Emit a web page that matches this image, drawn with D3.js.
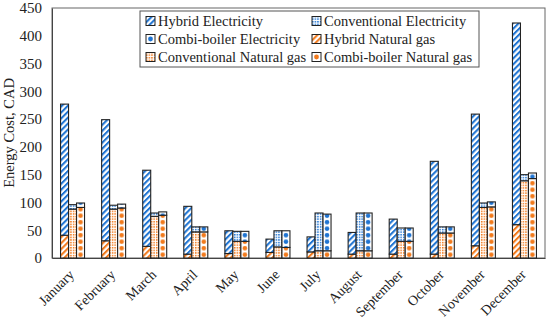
<!DOCTYPE html>
<html>
<head>
<meta charset="UTF-8">
<title>Energy cost by month</title>
<script src="https://d3js.org/d3.v7.min.js"></script>
<style>
  body { margin: 0; background: #fff; }
  svg text { font-family: "Liberation Serif", "Times New Roman", serif; fill: #222; }
</style>
</head>
<body>
<div id="chart"></div>
<script>
// data
var months = ["January", "February", "March", "April", "May", "June",
              "July", "August", "September", "October", "November", "December"];
var systems = ["Hybrid", "Conventional", "Combi-boiler"];
var hybridGas  = [41, 31, 21, 7, 8, 10, 11, 7, 7, 7, 22, 60];
var hybridElec = [236, 218, 137, 86, 41, 24, 27, 39, 63, 167, 237, 363];
var convGas    = [88, 88, 75, 47, 30, 20, 13, 13, 30, 45, 91, 139];
var convElec   = [8, 7, 6, 9, 18, 29, 68, 68, 24, 11, 8, 11];
var combiGas   = [91, 90, 77, 47, 30, 19, 13, 13, 30, 45, 92, 143];
var combiElec  = [8, 7, 6, 9, 18, 30, 66, 68, 24, 11, 9, 10];
var yTicks = [0, 50, 100, 150, 200, 250, 300, 350, 400, 450];

var width = 550, height = 323;
var margin = {top: 8, right: 5, bottom: 65, left: 52};
var blue = "#1f74d2", orange = "#f27a1c";

var svg = d3.select("#chart").append("svg")
            .attr("width", width)
            .attr("height", height)
            .attr("font-family", "Liberation Serif");

var x0 = d3.scaleBand()
           .domain(months)
           .range([margin.left, width - margin.right])
           .paddingInner(0.416)
           .paddingOuter(0.208);
var x1 = d3.scaleBand()
           .domain(systems)
           .range([0, x0.bandwidth()]);
var y = d3.scaleLinear()
          .domain([0, 450])
          .range([height - margin.bottom, margin.top]);

// patterns
var defs = svg.append("defs");

function stripes(id, color) {
  var p = defs.append("pattern")
              .attr("id", id)
              .attr("patternUnits", "userSpaceOnUse")
              .attr("width", 4.2).attr("height", 4.2)
              .attr("patternTransform", "rotate(45)");
  p.append("rect").attr("width", 4.2).attr("height", 4.2).attr("fill", "#fff");
  p.append("line").attr("x1", 1).attr("x2", 1).attr("y1", 0).attr("y2", 4.2)
   .attr("stroke", color).attr("stroke-width", 2.1);
}
function checker(id, color) {
  var p = defs.append("pattern")
              .attr("id", id)
              .attr("patternUnits", "userSpaceOnUse")
              .attr("width", 2.6).attr("height", 2.6);
  p.append("rect").attr("width", 2.6).attr("height", 2.6).attr("fill", "#fff");
  p.append("rect").attr("width", 1.5).attr("height", 1.5).attr("fill", color);
}
stripes("hybridE", blue);
stripes("hybridG", orange);
checker("convE", blue);
checker("convG", orange);

// dots are lined up with each combi bar
function dots(prefix, color) {
  var p = defs.selectAll("pattern." + prefix)
              .data(months)
              .join("pattern")
              .attr("class", prefix)
              .attr("id", function(d, i) { return prefix + i; })
              .attr("patternUnits", "userSpaceOnUse")
              .attr("x", function(d) { return x0(d) + x1("Combi-boiler"); })
              .attr("y", y(0))
              .attr("width", x1.bandwidth()).attr("height", 6.5);
  p.append("rect").attr("width", x1.bandwidth()).attr("height", 6.5).attr("fill", "#fff");
  p.append("circle").attr("cx", x1.bandwidth() / 2).attr("cy", 3.25).attr("r", 2.3)
   .attr("fill", color);
}
dots("combiE", blue);
dots("combiG", orange);

// plot frame
svg.append("rect")
   .attr("x", margin.left).attr("y", margin.top)
   .attr("width", width - margin.left - margin.right)
   .attr("height", height - margin.top - margin.bottom)
   .attr("fill", "none").attr("stroke", "#666").attr("stroke-width", 1);

// y axis
var yAxis = d3.axisLeft(y).tickValues(yTicks).tickSize(0).tickPadding(10);
var gy = svg.append("g")
            .attr("transform", "translate(" + margin.left + ",0)")
            .call(yAxis)
            .attr("font-family", "Liberation Serif");
gy.select(".domain").attr("stroke", "#444");
gy.selectAll("text").attr("font-size", 15).attr("fill", "#222");

svg.append("text")
   .attr("transform", "translate(14," + y(225) + ") rotate(-90)")
   .attr("text-anchor", "middle")
   .attr("font-size", 14.5)
   .text("Energy Cost, CAD");

// x axis
var xAxis = d3.axisBottom(x0).tickSize(0).tickPadding(0);
var gx = svg.append("g")
            .attr("transform", "translate(0," + y(0) + ")")
            .call(xAxis)
            .attr("font-family", "Liberation Serif");
gx.select(".domain").attr("stroke", "#444");
gx.selectAll("text")
  .attr("font-size", 14)
  .attr("fill", "#222")
  .attr("text-anchor", "end")
  .attr("x", 0).attr("y", 0)
  .attr("dy", "0.35em")
  .attr("transform", "translate(-1,14) rotate(-45)");

// bars
var series = [
  {sys: "Hybrid", gas: hybridGas, elec: hybridElec, gFill: function() { return "url(#hybridG)"; }, eFill: function() { return "url(#hybridE)"; }},
  {sys: "Conventional", gas: convGas, elec: convElec, gFill: function() { return "url(#convG)"; }, eFill: function() { return "url(#convE)"; }},
  {sys: "Combi-boiler", gas: combiGas, elec: combiElec, gFill: function(i) { return "url(#combiG" + i + ")"; }, eFill: function(i) { return "url(#combiE" + i + ")"; }}
];

series.forEach(function(s) {
  var g = svg.append("g");
  g.selectAll("rect.gas")
   .data(months)
   .join("rect")
   .attr("class", "gas")
   .attr("x", function(d) { return x0(d) + x1(s.sys); })
   .attr("width", x1.bandwidth())
   .attr("y", function(d, i) { return y(s.gas[i]); })
   .attr("height", function(d, i) { return y(0) - y(s.gas[i]); })
   .attr("fill", function(d, i) { return s.gFill(i); })
   .attr("stroke", "#222").attr("stroke-width", 1.1);
  g.selectAll("rect.elec")
   .data(months)
   .join("rect")
   .attr("class", "elec")
   .attr("x", function(d) { return x0(d) + x1(s.sys); })
   .attr("width", x1.bandwidth())
   .attr("y", function(d, i) { return y(s.gas[i] + s.elec[i]); })
   .attr("height", function(d, i) { return y(s.gas[i]) - y(s.gas[i] + s.elec[i]); })
   .attr("fill", function(d, i) { return s.eFill(i); })
   .attr("stroke", "#222").attr("stroke-width", 1.1);
});

// legend
var legendItems = [
  {name: "Hybrid Electricity", fill: "url(#hybridE)"},
  {name: "Conventional Electricity", fill: "url(#convE)"},
  {name: "Combi-boiler Electricity", fill: blue, dot: true},
  {name: "Hybrid Natural gas", fill: "url(#hybridG)"},
  {name: "Conventional Natural gas", fill: "url(#convG)"},
  {name: "Combi-boiler Natural gas", fill: orange, dot: true}
];

var legend = svg.append("g").attr("transform", "translate(140,11)");
legend.append("rect")
      .attr("width", 339).attr("height", 56)
      .attr("fill", "#fff").attr("stroke", "#555").attr("stroke-width", 1);

var li = legend.selectAll("g.item")
               .data(legendItems)
               .join("g")
               .attr("class", "item")
               .attr("transform", function(d, i) {
                 return "translate(" + (i % 2 === 0 ? 6 : 172) + "," + (10 + Math.floor(i / 2) * 18) + ")";
               });
li.append("rect")
  .attr("x", 0).attr("y", -4.5).attr("width", 9).attr("height", 9)
  .attr("fill", function(d) { return d.dot ? "#fff" : d.fill; })
  .attr("stroke", "#222").attr("stroke-width", 1);
li.filter(function(d) { return d.dot; })
  .append("circle")
  .attr("cx", 4.5).attr("cy", 0).attr("r", 2.4)
  .attr("fill", function(d) { return d.fill; });
li.append("text")
  .attr("x", 12).attr("y", 0).attr("dy", "0.35em")
  .attr("font-size", 14.5)
  .text(function(d) { return d.name; });
</script>
</body>
</html>
